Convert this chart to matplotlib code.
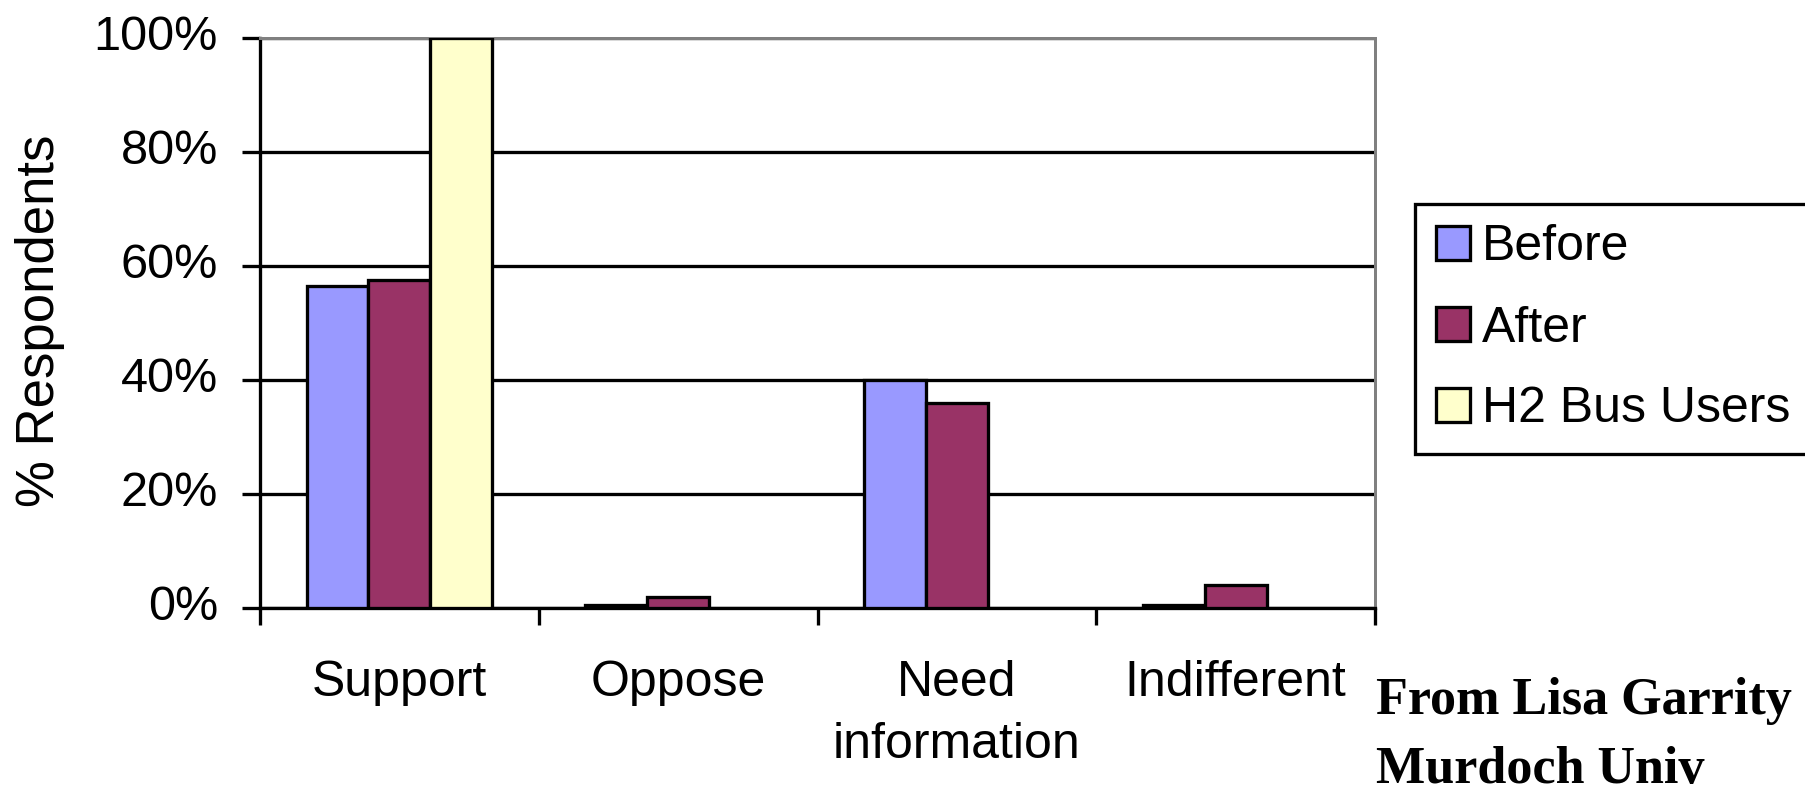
import matplotlib
matplotlib.use("Agg")
import matplotlib.pyplot as plt
from matplotlib.ticker import FixedLocator, FuncFormatter
from matplotlib.transforms import ScaledTranslation

# Survey responses (% of respondents)
categories = ["Support", "Oppose", "Need\ninformation", "Indifferent"]
series_names = ["Before", "After", "H2 Bus Users"]
before = [56.5, 0.5, 40.0, 0.5]
after = [57.5, 2.0, 36.0, 4.0]
h2_bus_users = [100.0, 0.0, 0.0, 0.0]
y_ticks = [0, 20, 40, 60, 80, 100]

colors = ["#9999FF", "#993366", "#FFFFCC"]
series = [before, after, h2_bus_users]

W, H = 1805, 786
DPI = 100
fig = plt.figure(figsize=(W / DPI, H / DPI), dpi=DPI)
fig.patch.set_facecolor("white")

def px(v):
    return v * 72.0 / DPI  # pixels -> points

ax = fig.add_axes([260 / W, (H - 608) / H, (1375 - 260) / W, (608 - 38) / H])

sans = "Liberation Sans"
lw = px(3.3)

bar_w = 0.222
x = range(len(categories))
handles = []
for i, (vals, col, name) in enumerate(zip(series, colors, series_names)):
    xs = [c + (i - 1) * bar_w for c in x]
    keep = [(xx, v) for xx, v in zip(xs, vals) if v > 0]
    b = ax.bar([k[0] for k in keep], [k[1] for k in keep], width=bar_w,
               color=col, edgecolor="black", linewidth=lw, zorder=3,
               label=name)
    handles.append(b)

ax.set_xlim(-0.5, len(categories) - 0.5)
ax.set_ylim(0, 100)

# gridlines
ax.yaxis.set_major_locator(FixedLocator(y_ticks))
ax.yaxis.set_major_formatter(FuncFormatter(lambda v, p: f"{v:.0f}%"))
ax.grid(axis="y", color="black", linewidth=lw, zorder=0)
ax.set_axisbelow(True)
ax.xaxis.grid(False)

ax.set_xticks(list(x))
ax.set_xticklabels(categories, fontsize=36, family=sans, linespacing=1.45)
ax.xaxis.set_minor_locator(FixedLocator([c - 0.5 for c in range(len(categories) + 1)]))
ax.tick_params(axis="x", which="major", length=0, pad=px(52))
ax.tick_params(axis="x", which="minor", length=px(17), width=lw, direction="out", color="black")
ax.tick_params(axis="y", which="major", length=px(18), width=lw, direction="out",
               color="black", pad=px(24), labelsize=35)
lift = ScaledTranslation(0, 5 / DPI, fig.dpi_scale_trans)
for lbl in ax.get_yticklabels():
    lbl.set_family(sans)
    lbl.set_transform(lbl.get_transform() + lift)

for side in ["left", "bottom"]:
    ax.spines[side].set_color("black")
    ax.spines[side].set_linewidth(lw)
for side in ["top", "right"]:
    ax.spines[side].set_color("#808080")
    ax.spines[side].set_linewidth(px(3))

fig.text(40 / W, 1 - 321 / H, "% Respondents", rotation=90, ha="center", va="center",
         fontsize=38, family=sans)

leg = fig.legend(handles, series_names, loc="center left",
                 bbox_to_anchor=(1415 / W, (H - 455) / H, 520 / W, (455 - 202) / H),
                 mode="expand", borderaxespad=0, prop={"family": sans, "size": 36},
                 handlelength=0.68, handleheight=0.66, handletextpad=0.24,
                 borderpad=0.42, labelspacing=0.70, fancybox=False, frameon=True)
fr = leg.get_frame()
fr.set_edgecolor("black")
fr.set_linewidth(lw)
fr.set_alpha(None)
for p in leg.get_patches():
    p.set_linewidth(lw)

serif = "Liberation Serif"
fig.text(1376 / W, 1 - 714 / H, "From Lisa Garrity", ha="left", va="baseline",
         fontsize=37.5, family=serif, fontweight="bold")
fig.text(1376 / W, 1 - 783 / H, "Murdoch Univ", ha="left", va="baseline",
         fontsize=37.5, family=serif, fontweight="bold")

fig.savefig("out.png", dpi=DPI, facecolor="white")
